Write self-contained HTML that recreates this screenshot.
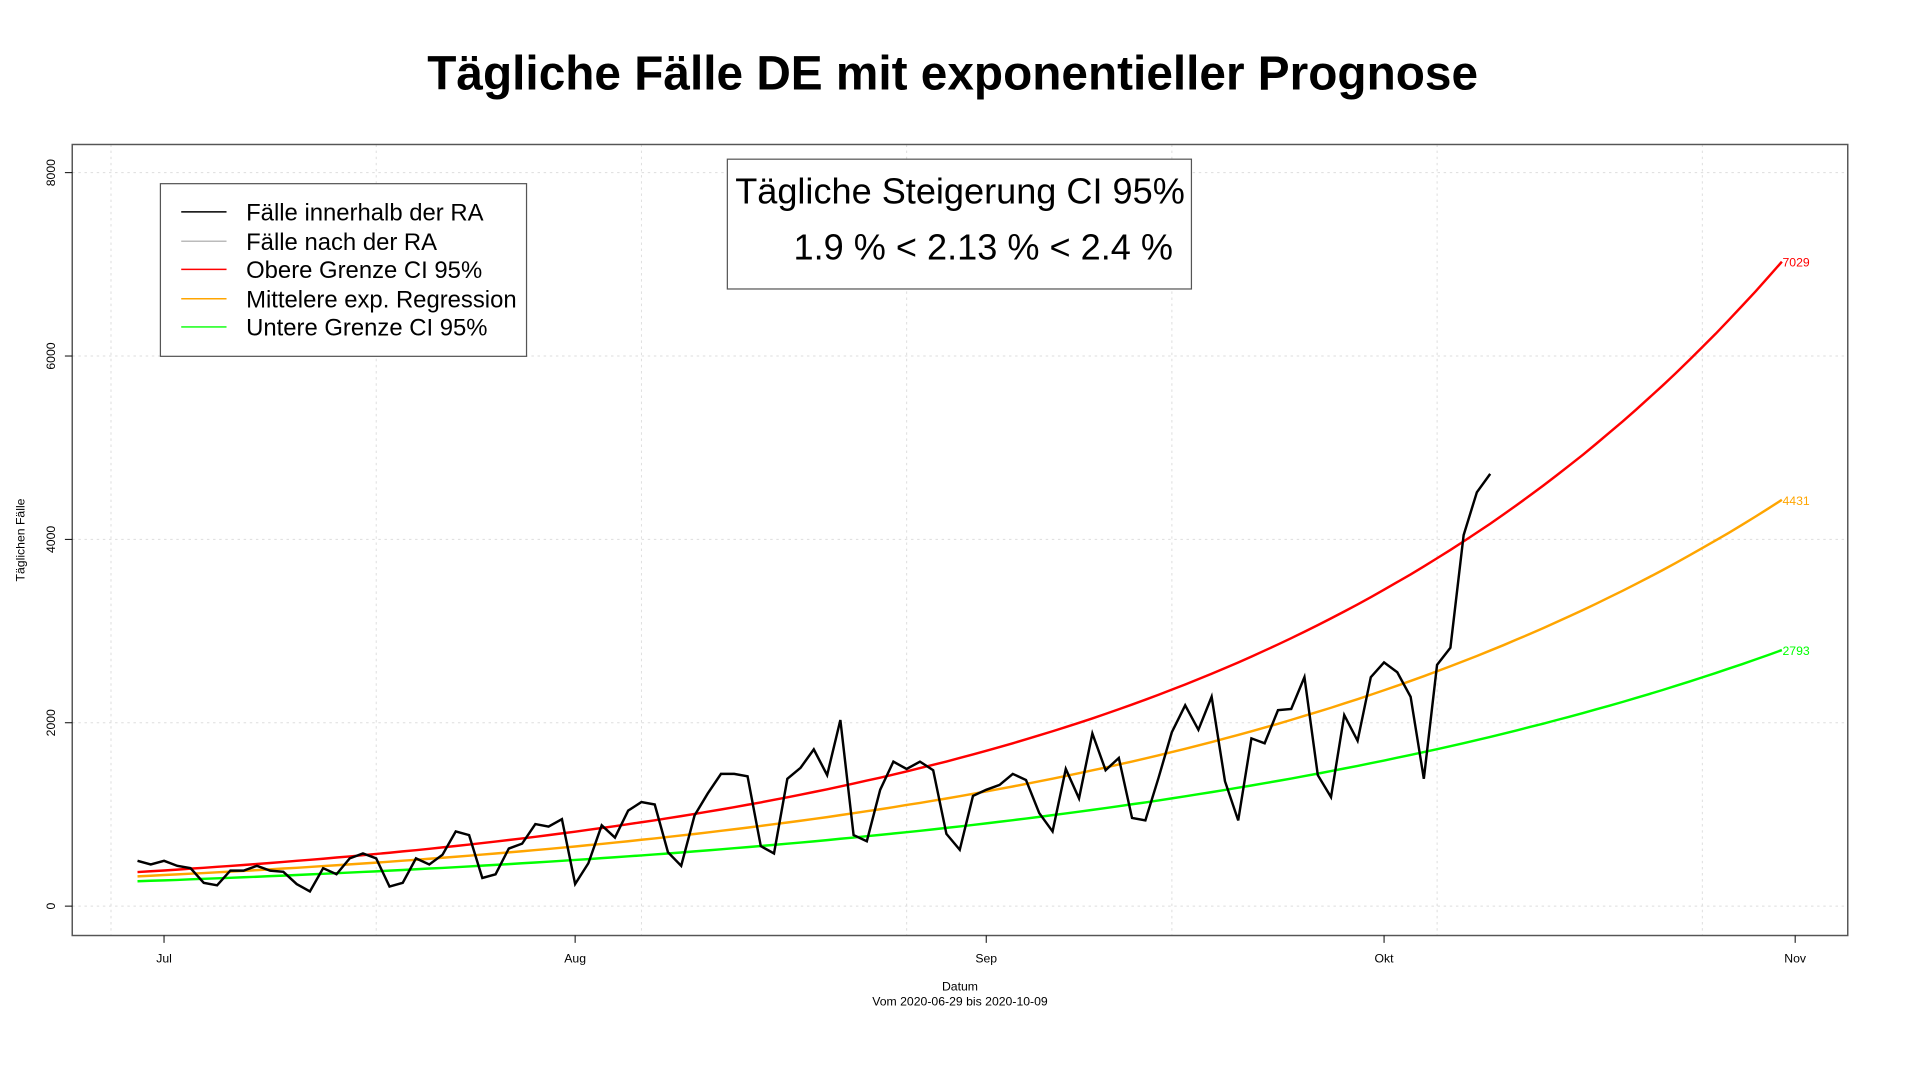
<!DOCTYPE html>
<html><head><meta charset="utf-8"><style>
html,body{margin:0;padding:0;background:#fff;}
svg{display:block;font-family:"Liberation Sans",sans-serif;}
</style></head><body>
<svg id="chart" width="1920" height="1080" viewBox="0 0 1568 882" preserveAspectRatio="none" xmlns="http://www.w3.org/2000/svg">
<rect width="1568" height="882" fill="#fff"/>
<text x="778" y="73" text-anchor="middle" font-size="39" font-weight="bold">Tägliche Fälle DE mit exponentieller Prognose</text>
<g id="grid"></g>
<rect x="59" y="118" width="1450" height="646" fill="none" stroke="#555" stroke-width="1.2"/>
<g id="axes"></g>
<g id="series"></g>
<text x="784" y="809" text-anchor="middle" font-size="10">Datum</text>
<text x="784" y="821" text-anchor="middle" font-size="10">Vom 2020-06-29 bis 2020-10-09</text>
<text transform="translate(20,441) rotate(-90)" text-anchor="middle" font-size="10">Täglichen Fälle</text>
<g>
<rect x="131" y="150" width="299" height="141" fill="#fff" stroke="#555" stroke-width="1"/>
<g><line x1="148" x2="185" y1="173" y2="173" stroke="#000" stroke-width="1.2"/><text x="201" y="180" font-size="19.5">Fälle innerhalb der RA</text></g>
<g><line x1="148" x2="185" y1="197" y2="197" stroke="#bbb" stroke-width="1.2"/><text x="201" y="204" font-size="19.5">Fälle nach der RA</text></g>
<g><line x1="148" x2="185" y1="220" y2="220" stroke="#f00" stroke-width="1.2"/><text x="201" y="227" font-size="19.5">Obere Grenze CI 95%</text></g>
<g><line x1="148" x2="185" y1="244" y2="244" stroke="#ffa500" stroke-width="1.2"/><text x="201" y="251" font-size="19.5">Mittelere exp. Regression</text></g>
<g><line x1="148" x2="185" y1="267" y2="267" stroke="#0f0" stroke-width="1.2"/><text x="201" y="274" font-size="19.5">Untere Grenze CI 95%</text></g>
</g>
<g>
<rect x="594" y="130" width="379" height="106" fill="#fff" stroke="#555" stroke-width="1"/>
<text x="784" y="166" text-anchor="middle" font-size="29.5">Tägliche Steigerung CI 95%</text>
<text x="803" y="212" text-anchor="middle" font-size="29.5">1.9 % &lt; 2.13 % &lt; 2.4 %</text>
</g>
</svg>
<script>
const cases = [494,454,494,440,414,254,227,387,387,440,387,374,240,160,414,347,521,574,521,214,254,521,454,561,815,775,307,347,628,681,895,868,948,240,467,881,748,1042,1135,1108,588,440,988,1229,1442,1442,1416,654,574,1389,1509,1709,1429,2030,775,708,1269,1576,1496,1576,1482,788,614,1202,1269,1322,1442,1376,1015,815,1496,1175,1883,1482,1616,962,935,1402,1896,2190,1923,2284,1362,935,1830,1776,2137,2150,2497,1429,1189,2083,1803,2497,2658,2551,2284,1389,2631,2818,4047,4514,4715];
const curveNames = ["upper","mid","lower"];
const curveColors = ["#f00","#ffa500","#0f0"];
const curveEndValues = [7029,4431,2793];
const curveRates = [0.0240,0.0213,0.0190];
const forecastEndDay = 124;
const yTicks = [0,2000,4000,6000,8000];
const xTickLabels = ["Jul","Aug","Sep","Okt","Nov"];
const xTickDays = [2,33,64,94,125];

const NS="http://www.w3.org/2000/svg";
const X = d => 112.3 + d*10.83;
const Y = v => 740 - v*(599/8000);
function mk(tag, attrs, parent){const e=document.createElementNS(NS,tag);for(const k in attrs)e.setAttribute(k,attrs[k]);parent.appendChild(e);return e;}
const grid=document.getElementById('grid'), axes=document.getElementById('axes'), series=document.getElementById('series');
yTicks.forEach(t=>{
  const g=mk('line',{x1:59,x2:1509,y1:Y(t),y2:Y(t),stroke:'#ddd','stroke-dasharray':'2,3','stroke-width':0.8},grid);
  
  
  const tk=mk('line',{x1:53,x2:59,y1:Y(t),y2:Y(t),stroke:'#000','stroke-width':0.8},axes);
  
  
  const lb=mk('text',{transform:`translate(45,${Y(t)}) rotate(-90)`,'text-anchor':'middle','font-size':10},axes);
  lb.textContent=t;
  
  
});
for(let d=-2; d<=140; d+=20){
  if(X(d)>1509) break;
  const g=mk('line',{x1:X(d),x2:X(d),y1:118,y2:764,stroke:'#ddd','stroke-dasharray':'2,3','stroke-width':0.8},grid);
  
  
}
xTickDays.forEach((d,i)=>{
  const tk=mk('line',{x1:X(d),x2:X(d),y1:764,y2:770,stroke:'#000','stroke-width':0.8},axes);
  
  
  const lb=mk('text',{x:X(d),y:786,'text-anchor':'middle','font-size':10},axes);
  lb.textContent=xTickLabels[i];
  
  
});
curveNames.forEach((n,i)=>{
  let pts=[];
  for(let d=0; d<=forecastEndDay; d++){
    const v=curveEndValues[i]*Math.pow(1+curveRates[i], d-forecastEndDay);
    pts.push(X(d).toFixed(1)+','+Y(v).toFixed(1));
  }
  const p=mk('polyline',{points:pts.join(' '),fill:'none',stroke:curveColors[i],'stroke-width':2},series);
  
  
  const lb=mk('text',{x:X(forecastEndDay)+0.5,y:Y(curveEndValues[i])+4,'font-size':10,fill:curveColors[i]},series);
  lb.textContent=curveEndValues[i];
  
  
});
const bp=mk('polyline',{points:cases.map((v,d)=>X(d).toFixed(1)+','+Y(v).toFixed(1)).join(' '),fill:'none',stroke:'#000','stroke-width':2,'stroke-linejoin':'miter'},series);


</script>
</body></html>
